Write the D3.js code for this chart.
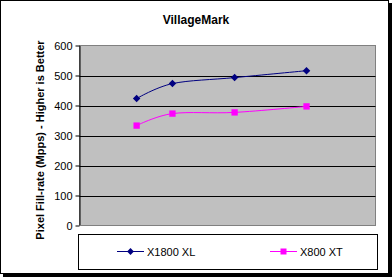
<!DOCTYPE html>
<meta charset="utf-8">
<style>
body { margin: 0; background: #fff; }
text { font-family: Arial, "Liberation Sans", sans-serif; }
</style>
<body></body>
<script src="https://cdn.jsdelivr.net/npm/d3@7"></script>
<script>

// Data
var seriesNames = ["X1800 XL", "X800 XT"];
var xPositions = [1.93, 3.14, 5.24, 7.67];   // hidden x values (no x labels shown)
var x1800xl = [423, 473, 493, 516];
var x800xt = [333, 373, 377, 397];
var yTicks = [0, 100, 200, 300, 400, 500, 600];

var colors = ["#000080", "#ff00ff"];

var W = 392, H = 278;
var plot = {left: 79.5, right: 375.5, top: 45.5, bottom: 225.5};

var svg = d3.select("body").append("svg")
    .attr("width", W)
    .attr("height", H);

// frame + shadow
svg.append("rect").attr("x", 3).attr("y", 3).attr("width", 389).attr("height", 274).attr("fill", "#000");
svg.append("rect").attr("x", 0.5).attr("y", 0.5).attr("width", 388).attr("height", 273)
    .attr("fill", "#fff").attr("stroke", "#000");

svg.append("text")
    .attr("x", 196).attr("y", 24)
    .attr("text-anchor", "middle")
    .attr("font-size", "12px").attr("font-weight", "bold")
    .text("VillageMark");

var x = d3.scaleLinear().domain([0, 10]).range([plot.left, plot.right]);
var y = d3.scaleLinear().domain([0, 600]).range([plot.bottom, plot.top]);

// plot area
svg.append("rect")
    .attr("x", plot.left).attr("y", plot.top)
    .attr("width", plot.right - plot.left).attr("height", plot.bottom - plot.top)
    .attr("fill", "#c0c0c0").attr("stroke", "#808080");

// gridlines
svg.append("g").selectAll("line")
    .data(yTicks.filter(function(d) { return d > 0 && d < 600; }))
    .enter().append("line")
    .attr("x1", plot.left).attr("x2", plot.right)
    .attr("y1", function(d) { return Math.round(y(d)) + 0.5; })
    .attr("y2", function(d) { return Math.round(y(d)) + 0.5; })
    .attr("stroke", "#000");

// y axis
var yAxis = d3.axisLeft(y).tickValues(yTicks).tickSize(4).tickSizeOuter(0).tickPadding(3);
var ga = svg.append("g")
    .attr("transform", "translate(" + plot.left + ",0)")
    .call(yAxis);
ga.select(".domain").attr("stroke", "#000");
ga.selectAll(".tick text").attr("font-size", "11px").attr("fill", "#000")
    .attr("font-family", "Arial, 'Liberation Sans', sans-serif");
ga.selectAll(".tick line").attr("stroke", "#000");

// bottom axis line
svg.append("line")
    .attr("x1", plot.left).attr("x2", plot.right)
    .attr("y1", plot.bottom).attr("y2", plot.bottom)
    .attr("stroke", "#808080");

svg.append("text")
    .attr("transform", "translate(44,140) rotate(-90)")
    .attr("text-anchor", "middle")
    .attr("font-size", "11px").attr("font-weight", "bold")
    .text("Pixel Fill-rate (Mpps)  - Higher is Better");

var line = d3.line()
    .x(function(d) { return x(d[0]); })
    .y(function(d) { return y(d[1]); })
    .curve(d3.curveCatmullRom.alpha(0));

var allSeries = [x1800xl, x800xt];
allSeries.forEach(function(vals, i) {
  var pts = vals.map(function(v, j) { return [xPositions[j], v]; });
  svg.append("path")
      .datum(pts)
      .attr("fill", "none")
      .attr("stroke", colors[i])
      .attr("stroke-width", 1)
      .attr("d", line);
  var sym = i == 0 ? d3.symbolDiamond2 : d3.symbolSquare;
  var sz = i == 0 ? 36 : 40;
  svg.append("g").selectAll("path")
      .data(pts)
      .enter().append("path")
      .attr("transform", function(d) { return "translate(" + x(d[0]) + "," + y(d[1]) + ")"; })
      .attr("d", d3.symbol().type(sym).size(sz))
      .attr("fill", colors[i]);
});

// legend
svg.append("rect")
    .attr("x", 78.5).attr("y", 234.5).attr("width", 299).attr("height", 35)
    .attr("fill", "#fff").attr("stroke", "#000");

var legendX = [117, 270];
seriesNames.forEach(function(name, i) {
  var lg = svg.append("g").attr("transform", "translate(" + legendX[i] + ",251.5)");
  lg.append("line").attr("x1", 0).attr("x2", 27).attr("stroke", colors[i]);
  lg.append("path")
      .attr("transform", "translate(13.5,0)")
      .attr("d", d3.symbol().type(i == 0 ? d3.symbolDiamond2 : d3.symbolSquare).size(i == 0 ? 30 : 36))
      .attr("fill", colors[i]);
  lg.append("text")
      .attr("x", 30).attr("y", 4)
      .attr("font-size", "11px")
      .text(name);
});

</script>
